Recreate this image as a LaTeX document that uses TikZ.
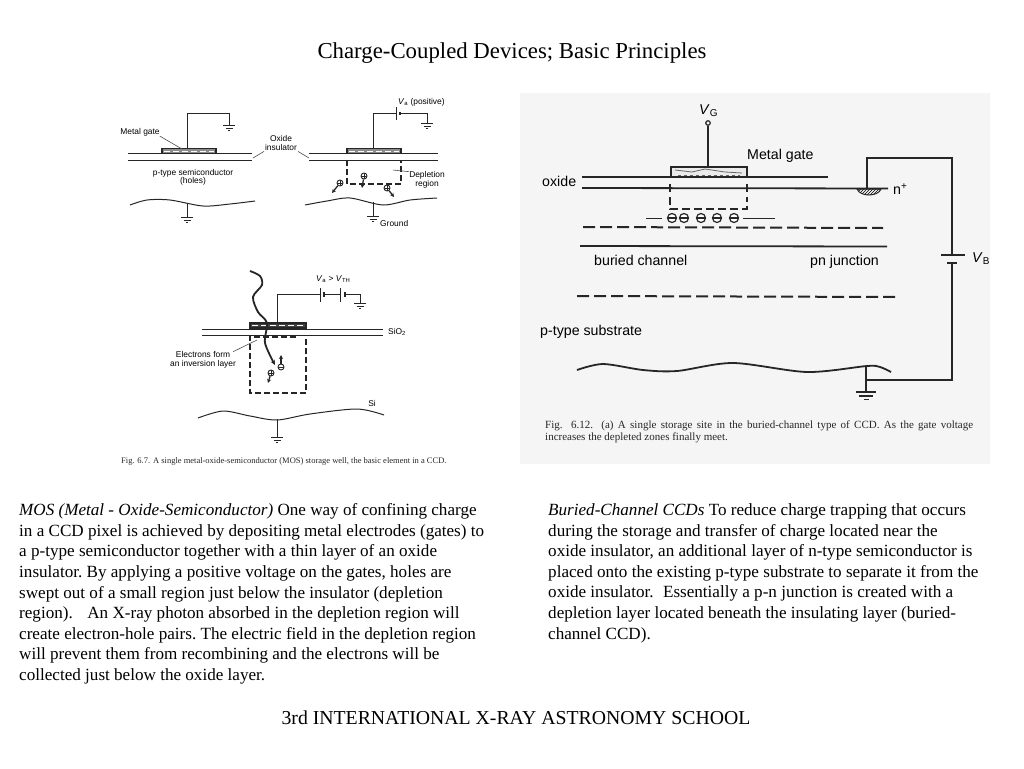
\documentclass[tikz,border=0pt]{standalone}
\usepackage{fontspec}
\setmainfont{Liberation Serif}
\setsansfont{Liberation Sans}
\usetikzlibrary{arrows.meta,patterns}
\tikzset{
  bodytext/.style={anchor=north west, inner sep=0pt, align=left, font=\fontsize{17.1}{20.6}\selectfont\frenchspacing},
  headtext/.style={inner sep=0pt, font=\fontsize{22.8}{26}\selectfont},
  smalllabel/.style={inner sep=0pt, align=center, font=\sffamily\fontsize{8.4}{8.4}\selectfont},
  biglabel/.style={inner sep=0pt, anchor=west, font=\sffamily\fontsize{14.2}{16}\selectfont},
  figcaption/.style={inner sep=0pt, anchor=west, font=\fontsize{8.5}{10}\selectfont, text=black!85},
  wire/.style={draw=black!85, line width=1pt},
  heavywire/.style={draw=black!85, line width=1.8pt},
  gatebox/.style={draw=black!85, line width=1.1pt, fill=black!45},
  gatemark/.style={draw=white, line width=0.8pt, dash pattern=on 6pt off 3pt},
  welldash/.style={draw=black!85, line width=1.2pt, dash pattern=on 6pt off 3pt},
  longdash/.style={draw=black!85, line width=2pt, dash pattern=on 12pt off 5pt},
  leader/.style={draw=black!70, line width=0.6pt},
  chargearrow/.style={-{Stealth[length=4pt,width=4pt]}, draw=black!85, line width=1.3pt},
  holept/.style={circle, draw=black!85, line width=0.9pt, fill=white, inner sep=0pt, minimum size=6pt,
    path picture={\draw (path picture bounding box.west) -- (path picture bounding box.east);
      \draw (path picture bounding box.north) -- (path picture bounding box.south);}},
  electronpt/.style={circle, draw=black!85, line width=0.9pt, fill=white, inner sep=0pt, minimum size=6pt,
    path picture={\draw (path picture bounding box.west) -- (path picture bounding box.east);}},
  bigelectron/.style={electronpt, line width=1.2pt, minimum size=9pt},
  gndsym/.pic={
    \draw[wire] (-6,0) -- (6,0);
    \draw[wire] (-3.5,3) -- (3.5,3);
    \draw[wire] (-1.2,5.5) -- (1.2,5.5);
  },
  gndbig/.pic={
    \draw[heavywire] (-10,0) -- (10,0);
    \draw[heavywire] (-7,4) -- (7,4);
    \draw[heavywire] (-2.5,7.5) -- (2.5,7.5);
  },
}

\begin{document}
\begin{tikzpicture}[x=1pt, y=-1pt]
    \useasboundingbox (0,0) rectangle (1024,768);
    \fill[black!4] (520,93) rectangle (990,464);

    \node[headtext] (title) at (512,53) {Charge-Coupled Devices; Basic Principles};
    \node[headtext, font=\fontsize{19.75}{24}\selectfont] (school) at (516,718) {3rd INTERNATIONAL X-RAY ASTRONOMY SCHOOL};

    % left sketch
    \node[smalllabel] (metallabel) at (140,132) {Metal gate};
    \node[smalllabel] (oxidelabel) at (281,143) {Oxide\\insulator};
    \node[smalllabel] (semilabel) at (193,177.5) {p-type semiconductor\\(holes)};
    \node[inner sep=0pt, minimum width=54, minimum height=5, gatebox] (gatea) at (189,151) {};
    \draw[gatemark] (gatea.west) ++(3,0) -- (214,151);
    \draw[wire] (128,153.5) -- (252,153.5);
    \draw[wire] (128,160) -- (252,160);
    \draw[leader] (metallabel.south east) -- (182,149);
    \draw[leader] (oxidelabel.south west) ++(-1,1) -- (253,158);
    \draw[leader] (oxidelabel.south east) ++(1,1) -- (309,158);
    \draw[wire] (gatea.north) ++(-2,0) |- (229,113) -- (229,125);
    \pic at (229,125) {gndsym};
    \draw[wire] plot[smooth] coordinates {(130,205) (147,200) (170,200) (203,206) (230,204) (255,201)};
    \draw[wire] (187,203) -- (187,217);
    \pic at (187,217) {gndsym};

    % right sketch
    \node[smalllabel, anchor=west] (valabel) at (398,102) {\textit{V}\textsubscript{a} (positive)};
    \node[smalllabel] (depllabel) at (427,180) {Depletion\\region};
    \node[smalllabel, anchor=west] (gndlabel) at (380,223) {Ground};
    \node[inner sep=0pt, minimum width=54, minimum height=5, gatebox] (gateb) at (374,151) {};
    \draw[gatemark] (gateb.west) ++(3,0) -- (399,151);
    \draw[wire] (309,153.5) -- (438,153.5);
    \draw[wire] (309,160) -- (438,160);
    \draw[wire] (373,148.5) |- (396,113);
    \draw[wire] (396,107) -- (396,120);
    \draw[wire, line width=1.6pt] (400,112) -- (400,115);
    \draw[wire] (400,113) -- (427,113) -- (427,123);
    \pic at (427,123) {gndsym};
    \draw[welldash] (347,160) -- (347,184) -- (401,184) -- (401,160);
    \draw[leader] (393,170) -- (depllabel.north west);
    \draw[wire] plot[smooth] coordinates {(305,205) (327,201) (350,198) (383,205) (410,200) (437,198)};
    \draw[wire] (373,202) -- (373,216);
    \pic at (373,216) {gndsym};
    \node[holept] (holea) at (340,183) {};
    \node[holept] (holeb) at (364,176) {};
    \node[holept] (holec) at (387,188) {};
    \draw[chargearrow] (holea) -- (332,193);
    \draw[chargearrow] (holeb) -- (362,188);
    \draw[chargearrow] (holec) -- (394,197);

    % inversion layer sketch
    \node[smalllabel, anchor=west] (vthlabel) at (316,279) {\textit{V}\textsubscript{a} > \textit{V}\textsubscript{TH}};
    \node[smalllabel, anchor=west] (siolabel) at (388,332) {SiO\textsubscript{2}};
    \node[smalllabel] (invlabel) at (203,360) {Electrons form\\an inversion layer};
    \node[smalllabel] (silabel) at (372,403) {Si};
    \node[inner sep=0pt, minimum width=56, minimum height=5, gatebox, fill=black!75] (gatec) at (278,325.5) {};
    \draw[gatemark] (gatec.west) ++(3,0) -- (304,325.5);
    \draw[wire] (202,329) -- (383,329);
    \draw[wire] (202,335) -- (383,335);
    \draw[wire] (277,323) |- (320,294);
    \draw[wire] (320,288) -- (320,302);
    \draw[wire, line width=1.6pt] (324,292) -- (324,297);
    \draw[wire] (324,294) -- (340,294);
    \draw[wire] (340,288) -- (340,302);
    \draw[wire, line width=1.6pt] (345,292) -- (345,297);
    \draw[wire] (345,294) -- (360,294) -- (360,303);
    \pic at (360,303) {gndsym};
    \draw[welldash] (250,335) -- (250,393) -- (306,393) -- (306,335);
    \draw[welldash] (254,337) -- (296,337);
    \draw[leader] (invlabel.north east) ++(-3,0) -- (257,340);
    \draw[-{Stealth[length=5pt,width=4.5pt]}, heavywire] plot[smooth] coordinates {(250,271) (260,276) (262,285) (253,297) (258,312) (267,323) (265,343) (275,365)};
    \node[electronpt] (elec) at (281,367) {};
    \node[holept] (holed) at (271,373) {};
    \draw[chargearrow] (elec) -- (281,355);
    \draw[chargearrow] (holed) -- (268,383);
    \draw[wire] plot[smooth] coordinates {(198,418) (223,411) (250,416) (277,420) (310,414) (357,409) (384,415)};
    \draw[wire] (277,419) -- (277,437);
    \pic at (277,437) {gndsym};
    \node[figcaption] (capmos) at (121,461) {Fig. 6.7. A single metal-oxide-semiconductor (MOS) storage well, the basic element in a CCD.};

    % buried channel figure
    \node[biglabel] (vglabel) at (699,111) {\textit{V}\textsubscript{G}};
    \node[biglabel] (metalbig) at (747,156) {Metal gate};
    \node[biglabel] (oxidebig) at (542,181) {oxide};
    \node[biglabel] (nplus) at (893,189) {n\textsuperscript{+}};
    \node[biglabel] (channel) at (594,260) {buried channel};
    \node[biglabel] (pnlabel) at (810,262) {pn junction};
    \node[biglabel] (vblabel) at (972,259) {\textit{V}\textsubscript{B}};
    \node[biglabel] (substrate) at (540,332) {p-type substrate};
    \node[circle, draw=black!85, line width=1.2pt, inner sep=0pt, minimum size=4.5pt] (vgpin) at (708,123) {};
    \node[inner sep=0pt, minimum width=76, minimum height=10, draw=black!85, line width=1.6pt, fill=black!8] (gated) at (709,172) {};
    \draw[heavywire] (vgpin) -- (708,167);
    \draw[draw=black!60, line width=0.8pt] (675,170) -- (692,172) -- (705,169) -- (725,172) -- (742,173);
    \draw[draw=black!60, line width=0.8pt, dashed] (678,175) -- (740,175);
    \draw[heavywire] (582,177) -- (828,177);
    \draw[heavywire] (582,188) -- (888,188.5);
    \draw[heavywire, line width=1.2pt] (670,184) -- (670,192);
    \draw[heavywire, line width=1.2pt] (747,184) -- (747,192);
    \draw[welldash, line width=1.5pt, dash pattern=on 8pt off 4pt] (670,197) -- (670,209) -- (747,209) -- (747,197);
    \draw[wire] (646,218) -- (662,218);
    \draw[wire] (743,218) -- (775,218);
    \foreach \ex/\en in {672/ea, 684/eb, 701/ec, 717/ed, 734/ee}
      \node[bigelectron] (\en) at (\ex,218) {};
    \draw[longdash] (583,227) -- (883,228);
    \draw[heavywire] (580,246) -- (887,246.5);
    \draw[longdash] (577,296) -- (899,297);
    \fill[pattern=north east lines, draw=black!85, line width=1pt] (857,189) .. controls (860,197) and (878,197) .. (881,189) -- cycle;
    \draw[heavywire] (867,188) |- (952,158) -- (952,255);
    \draw[heavywire] (941,255) -- (965,255);
    \draw[heavywire, line width=2.4pt] (947,263) -- (957,263);
    \draw[heavywire] (952,263) -- (952,380) -- (866,380);
    \draw[heavywire] plot[smooth] coordinates {(577,370) (603,364) (643,370) (677,371) (733,363) (807,372) (867,366) (880,367) (891,372)};
    \draw[heavywire] (866,366) -- (866,392);
    \pic at (866,392) {gndbig};
    \node[figcaption, font=\fontsize{11}{12.4}\selectfont, anchor=north west, text width=428, align=justify] (capbc) at (545,420.5) {Fig. 6.12. (a) A single storage site in the buried-channel type of CCD. As the gate voltage\linebreak increases the depleted zones finally meet.};

    % text columns
    \node[bodytext] (mostext) at (19,503.5) {\textit{MOS (Metal - Oxide-Semiconductor)} One way of confining charge\\
      in a CCD pixel is achieved by depositing metal electrodes (gates) to\\
      a p-type semiconductor together with a thin layer of an oxide\\
      insulator. By applying a positive voltage on the gates, holes are\\
      swept out of a small region just below the insulator (depletion\\
      region).\hspace{0.6em} An X-ray photon absorbed in the depletion region will\\
      create electron-hole pairs. The electric field in the depletion region\\
      will prevent them from recombining and the electrons will be\\
      collected just below the oxide layer.};
    \node[bodytext] (bctext) at (548,503.5) {\textit{Buried-Channel CCDs} To reduce charge trapping that occurs\\
      during the storage and transfer of charge located near the\\
      oxide insulator, an additional layer of n-type semiconductor is\\
      placed onto the existing p-type substrate to separate it from the\\
      oxide insulator.\hspace{0.3em} Essentially a p-n junction is created with a\\
      depletion layer located beneath the insulating layer (buried-\\
      channel CCD).};
\end{tikzpicture}
\end{document}
